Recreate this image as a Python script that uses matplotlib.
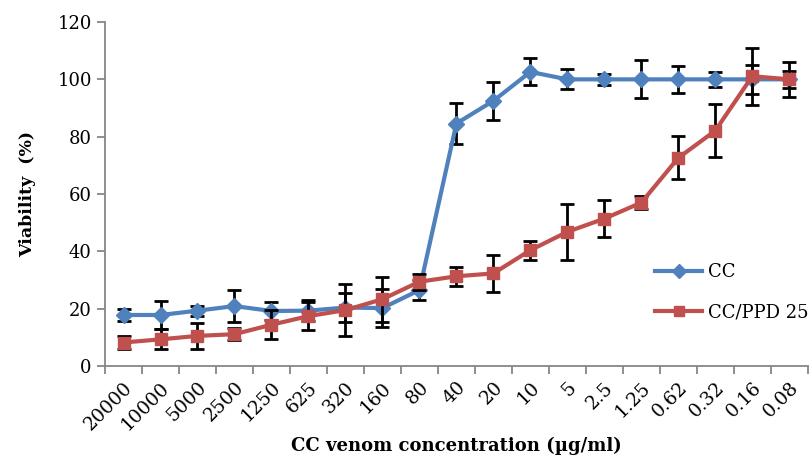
import numpy as np
import matplotlib.pyplot as plt

# concentrations (ug/ml) on the x axis, as categories
conc = ['20000', '10000', '5000', '2500', '1250', '625', '320', '160', '80', '40',
        '20', '10', '5', '2.5', '1.25', '0.62', '0.32', '0.16', '0.08']

cc_mean = [17.8, 17.8, 19.3, 20.9, 19.2, 19.3, 20.4, 20.2, 26.5, 84.6,
           92.5, 102.6, 100.0, 100.0, 100.0, 100.0, 100.0, 100.0, 100.0]
cc_err = [2.2, 4.8, 1.7, 5.7, 3.0, 3.6, 5.1, 6.6, 3.5, 7.1,
          6.6, 4.7, 3.5, 1.8, 6.6, 4.6, 2.5, 5.0, 3.0]

ppd_mean = [8.2, 9.3, 10.5, 11.1, 14.4, 17.4, 19.5, 23.3, 29.4, 31.3,
            32.3, 40.4, 46.8, 51.4, 57.0, 72.6, 82.1, 101.1, 100.0]
ppd_err = [2.2, 3.5, 4.5, 2.0, 5.0, 5.0, 9.2, 7.8, 2.8, 3.4,
           6.6, 3.3, 9.7, 6.5, 2.3, 7.5, 9.2, 10.0, 6.0]

plt.rcParams['font.family'] = 'DejaVu Serif'

fig = plt.figure(figsize=(8.11, 4.59), dpi=100)
ax = fig.add_axes([0.1295, 0.2026, 0.8665, 0.7494])

x = np.arange(len(conc))
ax.errorbar(x, cc_mean, yerr=cc_err, color='#4F81BD', lw=3, marker='D', ms=8,
            ecolor='black', elinewidth=2, capsize=5, capthick=2, label='CC', zorder=3)
ax.errorbar(x, ppd_mean, yerr=ppd_err, color='#C0504D', lw=3, marker='s', ms=9,
            ecolor='black', elinewidth=2, capsize=5, capthick=2, label='CC/PPD 25', zorder=4)

ax.set_xlim(-0.5, len(conc) - 0.5)
ax.set_ylim(0, 120)
ax.set_yticks(np.arange(0, 121, 20))
ax.set_xticks(x)
ax.set_xticklabels(conc, rotation=45, ha='right', rotation_mode='anchor')
ax.set_xticks(np.arange(-0.5, len(conc), 1), minor=True)
ax.tick_params(axis='x', which='major', length=0, pad=9, labelsize=13.5)
ax.tick_params(axis='x', which='minor', length=6, color='#868686', width=1.3)
ax.tick_params(axis='y', length=6, color='#868686', width=1.3, labelsize=13)

for s in ['top', 'right']:
    ax.spines[s].set_visible(False)
for s in ['left', 'bottom']:
    ax.spines[s].set_color('#868686')
    ax.spines[s].set_linewidth(1.3)

ax.set_xlabel('CC venom concentration (µg/ml)', fontweight='bold', fontsize=13, labelpad=2)
ax.set_ylabel('Viability  (%)', fontweight='bold', fontsize=12.5)
ax.yaxis.set_label_coords(-0.098, 0.5)

h, l = ax.get_legend_handles_labels()
h = [hh[0] for hh in h]
ax.legend(h, l, loc='center left', bbox_to_anchor=(0.76, 0.214), frameon=False,
          fontsize=13, handlelength=2.6, labelspacing=1.25, handletextpad=0.3,
          markerscale=0.85)

fig.savefig('out.png', dpi=100)
